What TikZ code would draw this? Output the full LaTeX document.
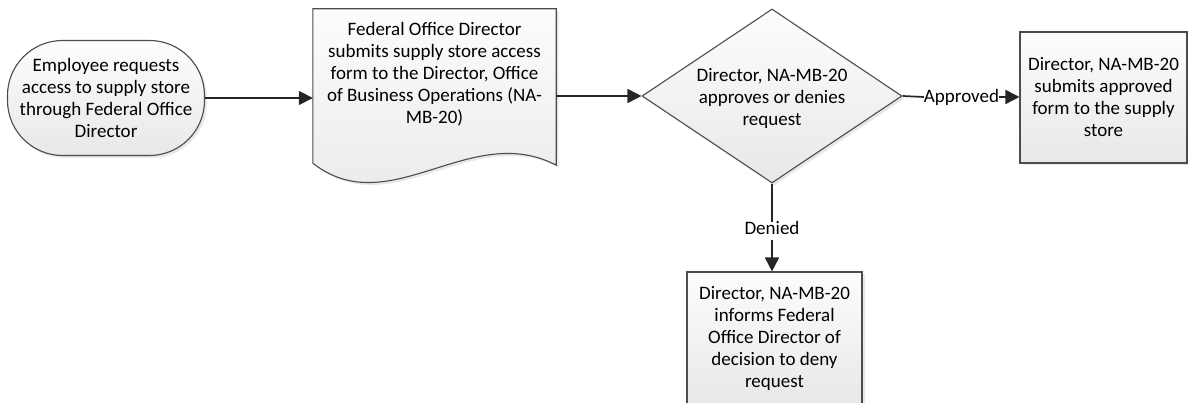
\documentclass[tikz,border=0pt]{standalone}
\usepackage{fontspec}
\setmainfont{Carlito}
\usetikzlibrary{arrows.meta,shapes.geometric,shadows,calc}

\tikzset{
  boxfill/.style={top color=gray!2, bottom color=gray!18, draw=black!70, line width=1.1pt,
    drop shadow={opacity=0.18, shadow xshift=2.5pt, shadow yshift=-2.5pt}},
  txt/.style={align=center, font=\fontsize{19}{22}\selectfont, inner sep=0pt},
  flow/.style={draw=black!85, line width=1.7pt, -{Triangle[length=14pt,width=14pt]}},
  plain/.style={draw=black!85, line width=1.7pt},
}

\begin{document}
\begin{tikzpicture}[x=1pt,y=1pt]
  \useasboundingbox (0,0) rectangle (1188,-403);

  % shapes
  \node[boxfill, txt, rectangle, rounded corners=55pt, minimum width=197pt, minimum height=115pt] (start) at (106,-98)
    {Employee requests\\access to supply store\\through Federal Office\\Director};

  \node[txt, minimum width=243pt, minimum height=130pt] (form) at (434.5,-74) {};
  \draw[boxfill] (form.north west) -- (form.north east) -- ($(form.south east)+(0,-26)$)
    .. controls +(-86,45) and +(77,-60) .. ($(form.south west)+(0,-24)$) -- cycle;
  \node[txt] (formtext) at (form) {Federal Office Director\\submits supply store access\\form to the Director, Office\\of Business Operations (NA-\\MB-20)};

  \node[boxfill, diamond, inner sep=0pt, minimum width=260pt, minimum height=174pt] (decide) at (772,-96) {};
  \node[txt] (decidetext) at (772,-98) {Director, NA-MB-20\\approves or denies\\request};

  \node[boxfill, txt, rectangle, minimum width=167pt, minimum height=131pt] (submit) at (1103.5,-97.5)
    {Director, NA-MB-20\\submits approved\\form to the supply\\store};

  \node[boxfill, txt, rectangle, minimum width=175pt, minimum height=132pt] (inform) at (774.5,-338)
    {Director, NA-MB-20\\informs Federal\\Office Director of\\decision to deny\\request};

  % labels
  \node[txt] (approved) at (961.5,-97) {Approved};
  \node[txt] (denied) at (772,-228) {Denied};

  % connectors
  \draw[flow] (start.east) -- (start.east -| form.west);
  \draw[flow] (form.east |- decide.west) -- (decide.west);
  \draw[plain] (decide.east) -- (approved.west);
  \draw[flow] (approved.east) -- (submit.west |- approved.east);
  \draw[plain] (decide.south) -- ($(denied.north)+(0,-1)$);
  \draw[flow] ($(denied.south)+(0,-5)$) -- (inform.north -| decide.south);
\end{tikzpicture}
\end{document}
